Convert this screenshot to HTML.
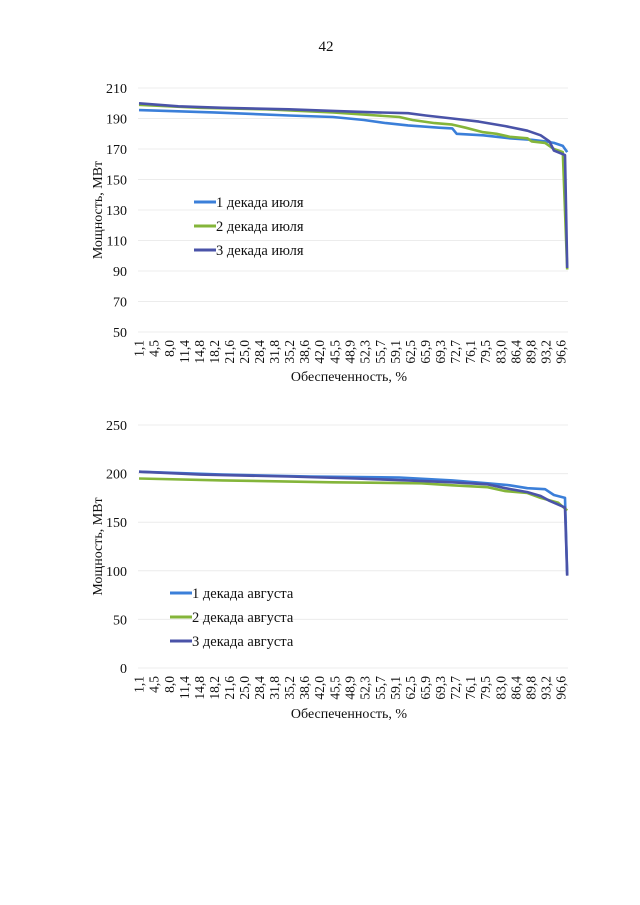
<!DOCTYPE html>
<html><head><meta charset="utf-8">
<style>
html,body{margin:0;padding:0;background:#fff;}
svg{display:block;font-family:"Liberation Serif",serif;}
</style></head>
<body>
<svg id="page" width="640" height="905" viewBox="0 0 640 905" xmlns="http://www.w3.org/2000/svg">
<rect width="640" height="905" fill="#fff"/>
<text x="326" y="51" font-size="15" text-anchor="middle" fill="#111">42</text>
<g id="chart1"></g>
<g id="chart2"></g>
</svg>
<script>
const xTicks = ["1,1","4,5","8,0","11,4","14,8","18,2","21,6","25,0","28,4","31,8","35,2","38,6","42,0","45,5","48,9","52,3","55,7","59,1","62,5","65,9","69,3","72,7","76,1","79,5","83,0","86,4","89,8","93,2","96,6"];
const xTickVals = [1.1,4.5,8.0,11.4,14.8,18.2,21.6,25.0,28.4,31.8,35.2,38.6,42.0,45.5,48.9,52.3,55.7,59.1,62.5,65.9,69.3,72.7,76.1,79.5,83.0,86.4,89.8,93.2,96.6];

const julyNames = ["1 декада июля","2 декада июля","3 декада июля"];
const julyX1 = [1.1,18,35,45,52,57,62,69,72,73,79,85,90,93,95,97,98];
const julyY1 = [195.5,194,192,191,189,187,185.5,184,183.5,180,179,177,176,175,174,172,168];
const julyX2 = [1.1,15,30,45,55,60,63,68,72,75,79,82,85,89,90,93,95,97,98];
const julyY2 = [199,197,196,194,192,191,189,187,186,184,181,180,178,177,175,174,170,168,91];
const julyX3 = [1.1,10,20,35,45,55,62,66,72,78,84,89,92,94,95,97.5,98];
const julyY3 = [200,198,197,196,195,194,193.5,192,190,188,185,182,179,175,169,166,92];
const julyYTicks = [50,70,90,110,130,150,170,190,210];

const augNames = ["1 декада августа","2 декада августа","3 декада августа"];
const augX1 = [1.1,20,40,60,72,80,85,89,93,95,97.5,98];
const augY1 = [202,199,197,196,193,190,188,185,184,178,175,96];
const augX2 = [1.1,20,45,65,72,80,84,89,92,96,98];
const augY2 = [195,193,191,190,188,186,182,180,175,170,162];
const augX3 = [1.1,15,35,50,62,72,80,84,89,92,94,97,97.5,98];
const augY3 = [202,199,197,195,193,191,189,185,181,177,172,166,165,95];
const augYTicks = [0,50,100,150,200,250];

const colors = ["#3b7fd9","#84b53a","#4a53a8"];
const NS = "http://www.w3.org/2000/svg";
function mk(tag, attrs, parent){const e=document.createElementNS(NS,tag);for(const k in attrs)e.setAttribute(k,attrs[k]);parent.appendChild(e);return e;}

function drawChart(g, o){
  const xS = v => 139 + (v-1.1)*(422/95.5);
  const yS = v => o.yTop + (o.yMax - v)/(o.yMax-o.yMin)*(o.yBot-o.yTop);
  o.yTicks.forEach(t=>{
    const l=mk("line",{x1:138,x2:568,y1:yS(t),y2:yS(t),stroke:"#ececec","stroke-width":1},g);
    
    
    const tx=mk("text",{x:127,y:yS(t)+5,"font-size":14,"text-anchor":"end",fill:"#111"},g);
    tx.textContent=t;
    
    
  });
  xTicks.forEach((lab,i)=>{
    const x=xS(xTickVals[i]);
    const tx=mk("text",{x:0,y:0,"font-size":13.5,"text-anchor":"end",fill:"#111",transform:`translate(${x+4.5},${o.yBot+8}) rotate(-90)`},g);
    tx.textContent=lab;
    
    
  });
  const series=[[o.x1,o.y1],[o.x2,o.y2],[o.x3,o.y3]];
  series.forEach((s,k)=>{
    const d=s[0].map((v,i)=>(i?"L":"M")+xS(v).toFixed(1)+","+yS(s[1][i]).toFixed(1)).join("");
    const p=mk("path",{d:d,fill:"none",stroke:colors[k],"stroke-width":2.6,"stroke-linejoin":"round"},g);
    
    
  });
  o.names.forEach((n,k)=>{
    const y=o.legY+k*24;
    const l=mk("line",{x1:o.legX,x2:o.legX+22,y1:y,y2:y,stroke:colors[k],"stroke-width":3},g);
    
    
    const t=mk("text",{x:o.legX+22,y:y+5,"font-size":14.5,fill:"#111"},g);
    t.textContent=n;
    
    
  });
  const yt=mk("text",{x:0,y:0,"font-size":14,"text-anchor":"middle",fill:"#111",transform:`translate(${102},${(o.yTop+o.yBot)/2}) rotate(-90)`},g);
  yt.textContent="Мощность, МВт";
  
  
  const xt=mk("text",{x:349,y:o.xTitleY,"font-size":14,"text-anchor":"middle",fill:"#111"},g);
  xt.textContent="Обеспеченность, %";
  
  
}
drawChart(document.getElementById("chart1"),{yTop:88,yBot:332,yMin:50,yMax:210,yTicks:julyYTicks,
  x1:julyX1,y1:julyY1,x2:julyX2,y2:julyY2,x3:julyX3,y3:julyY3,names:julyNames,legX:194,legY:202,xTitleY:381});
drawChart(document.getElementById("chart2"),{yTop:425,yBot:668,yMin:0,yMax:250,yTicks:augYTicks,
  x1:augX1,y1:augY1,x2:augX2,y2:augY2,x3:augX3,y3:augY3,names:augNames,legX:170,legY:593,xTitleY:718});
</script>
</body></html>
